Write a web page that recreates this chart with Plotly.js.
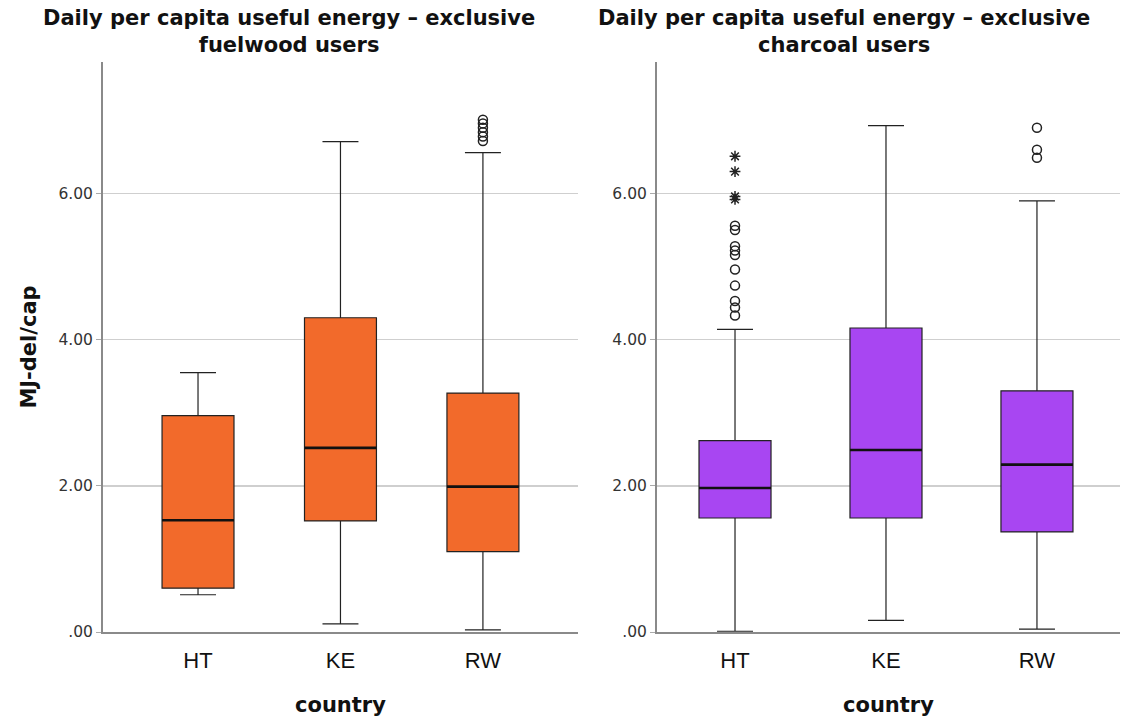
<!DOCTYPE html>
<html>
<head>
<meta charset="utf-8">
<script src="https://cdn.plot.ly/plotly-3.0.1.min.js"></script>
<style>html,body{margin:0;padding:0;background:#fff;}#chart{width:1127px;height:717px;}</style>
</head>
<body>
<div id="chart"></div>
<script>
const countries = ['HT', 'KE', 'RW'];

// Fuelwood users
const woodQ1 = [0.60, 1.52, 1.10];
const woodMedian = [1.53, 2.52, 1.99];
const woodQ3 = [2.96, 4.30, 3.27];
const woodLower = [0.51, 0.11, 0.03];
const woodUpper = [3.55, 6.71, 6.56];
const woodOutX = ['RW', 'RW', 'RW', 'RW', 'RW', 'RW'];
const woodOutY = [6.72, 6.78, 6.84, 6.90, 6.96, 7.01];

// Charcoal users
const charQ1 = [1.56, 1.56, 1.37];
const charMedian = [1.97, 2.49, 2.29];
const charQ3 = [2.62, 4.16, 3.30];
const charLower = [0.01, 0.16, 0.04];
const charUpper = [4.14, 6.93, 5.90];
const charOutX = ['HT', 'HT', 'HT', 'HT', 'HT', 'HT', 'HT', 'HT', 'HT', 'HT', 'RW', 'RW', 'RW'];
const charOutY = [5.56, 5.50, 5.28, 5.22, 5.16, 4.96, 4.74, 4.53, 4.44, 4.33, 6.90, 6.60, 6.49];
const charExtX = ['HT', 'HT', 'HT', 'HT'];
const charExtY = [6.51, 6.30, 5.96, 5.92];

const yTicks = [0, 2, 4, 6];
const yTickText = ['.00', '2.00', '4.00', '6.00'];

const orange = '#F26A2B';
const purple = '#A846F2';

function boxTrace(q1, med, q3, lo, hi, color, xa, ya, w) {
  return {
    type: 'box', x: countries, q1: q1, median: med, q3: q3,
    lowerfence: lo, upperfence: hi, boxpoints: false,
    fillcolor: color, line: {color: '#222', width: 1.2},
    whiskerwidth: 0.5, width: w, xaxis: xa, yaxis: ya,
    hoverinfo: 'skip', showlegend: false
  };
}
function medTrace(med, xa, ya, w) {
  return {
    type: 'box', x: countries, q1: med, median: med, q3: med,
    lowerfence: med, upperfence: med, boxpoints: false,
    fillcolor: 'rgba(0,0,0,0)', line: {color: '#111', width: 2.6},
    whiskerwidth: 0, width: w, xaxis: xa, yaxis: ya,
    hoverinfo: 'skip', showlegend: false
  };
}
function outTrace(xs, ys, symbol, xa, ya, size) {
  return {
    type: 'scatter', mode: 'markers', x: xs, y: ys, xaxis: xa, yaxis: ya,
    marker: {symbol: symbol, size: size, color: '#222',
             line: {color: '#222', width: 1.5}},
    hoverinfo: 'skip', showlegend: false
  };
}

const data = [
  boxTrace(woodQ1, woodMedian, woodQ3, woodLower, woodUpper, orange, 'x', 'y', 0.505),
  medTrace(woodMedian, 'x', 'y', 0.505),
  outTrace(woodOutX, woodOutY, 'circle-open', 'x', 'y', 9),
  boxTrace(charQ1, charMedian, charQ3, charLower, charUpper, purple, 'x2', 'y2', 0.477),
  medTrace(charMedian, 'x2', 'y2', 0.477),
  outTrace(charOutX, charOutY, 'circle-open', 'x2', 'y2', 9),
  outTrace(charExtX, charExtY, 'asterisk-open', 'x2', 'y2', 9)
];

const axisFont = {family: 'DejaVu Sans, sans-serif', size: 15.5, color: '#333'};
function yAxis(extra) {
  return Object.assign({
    range: [0, 7.8], tickvals: yTicks, ticktext: yTickText,
    showgrid: true, gridcolor: '#cfcfcf', gridwidth: 1.3,
    zeroline: false, showline: true, linecolor: '#8a8a8a', linewidth: 2,
    ticks: 'outside', ticklen: 5, tickcolor: '#aaa', tickfont: axisFont,
    fixedrange: true
  }, extra);
}
function xAxis(extra) {
  return Object.assign({
    type: 'category', showgrid: false, zeroline: false, showline: true,
    linecolor: '#8a8a8a', linewidth: 2, ticks: '', ticklabelstandoff: 8,
    tickfont: {family: 'Liberation Sans, Arial, sans-serif', size: 22, color: '#111'},
    title: {text: 'country', font: {family: 'DejaVu Sans, sans-serif', size: 21, color: '#111', weight: 'bold'}, standoff: 30},
    fixedrange: true
  }, extra);
}

const titleFont = {family: 'DejaVu Sans, sans-serif', size: 21, color: '#111', weight: 'bold'};

const layout = {
  width: 1127, height: 717,
  margin: {l: 103, r: 7, t: 62, b: 85},
  paper_bgcolor: '#fff', plot_bgcolor: '#fff',
  xaxis: xAxis({domain: [0, 0.467], range: [-0.667, 2.667], anchor: 'y'}),
  yaxis: yAxis({domain: [0, 1], anchor: 'x',
    title: {text: 'MJ-del/cap', font: {family: 'DejaVu Sans, sans-serif', size: 21, color: '#111', weight: 'bold'}, standoff: 16}}),
  xaxis2: xAxis({domain: [0.5447, 1], range: [-0.517, 2.55], anchor: 'y2'}),
  yaxis2: yAxis({domain: [0, 1], anchor: 'x2'}),
  annotations: [
    {text: 'Daily per capita useful energy – exclusive<br>fuelwood users', xref: 'paper', yref: 'paper',
     x: (289 - 103) / 1017, y: 1, yshift: 58, xanchor: 'center', yanchor: 'top', showarrow: false,
     font: titleFont},
    {text: 'Daily per capita useful energy – exclusive<br>charcoal users', xref: 'paper', yref: 'paper',
     x: (844 - 103) / 1017, y: 1, yshift: 58, xanchor: 'center', yanchor: 'top', showarrow: false,
     font: titleFont}
  ]
};

Plotly.newPlot('chart', data, layout, {displayModeBar: false, staticPlot: true});
</script>
</body>
</html>
